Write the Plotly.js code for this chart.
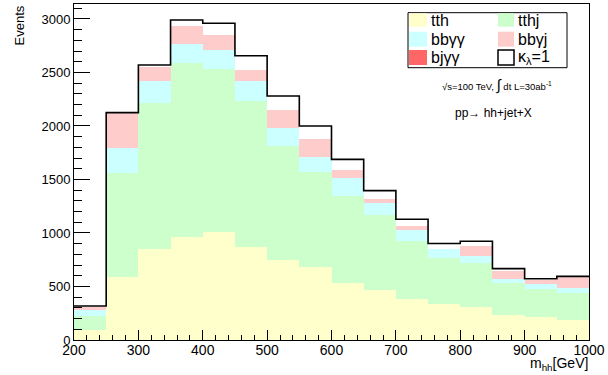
<!DOCTYPE html>
<html><head><meta charset="utf-8">
<script src="https://cdn.plot.ly/plotly-3.0.1.min.js"></script>
<style>html,body{margin:0;padding:0;background:#fff}#chart{width:608px;height:375px}</style>
</head><body><div id="chart"></div>
<script>
// Bin edges of m_hh [GeV]
const binEdges = [200,250,300,350,400,450,500,550,600,650,700,750,800,850,900,950,1000];
// Stacked backgrounds (events per bin)
const tth   = [93, 586, 847, 960, 1009, 869, 748, 682, 535, 467, 383, 340, 312, 234, 218, 187];
const tthj  = [131, 978, 1364, 1632, 1521, 1365, 1062, 890, 814, 701, 542, 429, 408, 295, 256, 252];
const bbaa  = [56, 233, 210, 174, 180, 188, 170, 141, 168, 109, 103, 81, 65, 44, 49, 50];
const bbaj  = [25, 323, 133, 169, 140, 101, 167, 162, 72, 41, 37, 5, 94, 72, 38, 97];
const bjaa  = [0, 0, 0, 0, 0, 0, 0, 0, 0, 0, 0, 0, 0, 0, 0, 0];
// Signal (kappa_lambda = 1) on top of the stack
const signal = [13, 5, 16, 56, 110, 134, 133, 125, 99, 78, 63, 47, 44, 22, 12, 9];

const seriesNames = ['tth', 'tthj', 'bbγγ', 'bbγj', 'bjγγ', 'κ<sub>λ</sub>=1'];
const xTicks = [200,300,400,500,600,700,800,900,1000];
const yTicks = [0,500,1000,1500,2000,2500,3000];

const colors = ['#ffffcc', '#ccffcc', '#ccffff', '#ffcccc', '#ff6666', '#ffffff'];
const FONT = 'Liberation Sans, Arial, Helvetica, sans-serif';

const centers = binEdges.slice(0, -1).map((e, i) => (e + binEdges[i + 1]) / 2);
const widths = binEdges.slice(0, -1).map((e, i) => binEdges[i + 1] - e);
const stackSeries = [tth, tthj, bbaa, bbaj, bjaa];

const traces = stackSeries.map((vals, k) => ({
  type: 'bar', x: centers, y: vals, width: widths, name: seriesNames[k],
  marker: {color: colors[k], line: {width: 0}}, showlegend: false, hoverinfo: 'skip'
}));
const totals = centers.map((_, i) => stackSeries.reduce((s, a) => s + a[i], 0) + signal[i]);
traces.push({
  type: 'scatter', mode: 'lines', x: binEdges, y: totals.concat([totals[totals.length - 1]]),
  line: {shape: 'hv', color: '#000000', width: 1.6}, name: seriesNames[5], showlegend: false, hoverinfo: 'skip'
});

// pixel -> paper helpers (plot area 74..589 x 4..340)
const L = 74, R = 589, T = 4, B = 340;
const px = x => (x - L) / (R - L);
const py = y => (B - y) / (B - T);

const shapes = [];
const annotations = [];
// legend box
shapes.push({type: 'rect', xref: 'paper', yref: 'paper', x0: px(408), x1: px(567), y0: py(67.7), y1: py(12.7),
  line: {color: '#000', width: 1}, fillcolor: '#fff', layer: 'above'});
const legendOrder = [0, 1, 2, 3, 4, 5];
const colX = [[409, 427, 429], [498, 514, 516]];
const rowY = [[13.3, 26.7], [31.7, 46.7], [50, 65]];
legendOrder.forEach((k, idx) => {
  const c = idx % 2, r = Math.floor(idx / 2);
  const [sx0, sx1, tx] = colX[c];
  const [sy0, sy1] = rowY[r];
  shapes.push({type: 'rect', xref: 'paper', yref: 'paper', x0: px(sx0), x1: px(sx1), y0: py(sy1), y1: py(sy0),
    line: {color: k === 5 ? '#000' : colors[k], width: k === 5 ? 1.5 : 0}, fillcolor: colors[k], layer: 'above'});
  annotations.push({xref: 'paper', yref: 'paper', x: px(tx), y: py((sy0 + sy1) / 2), xanchor: 'left', yanchor: 'middle',
    text: seriesNames[k], showarrow: false, font: {family: FONT, size: 16, color: '#000'}});
});
annotations.push({xref: 'paper', yref: 'paper', x: px(497), y: py(85), xanchor: 'center', yanchor: 'middle',
  text: '√s=100 TeV, <span style="font-size:15px">∫</span> dt L=30ab<sup>-1</sup>', showarrow: false,
  font: {family: FONT, size: 9.5, color: '#000'}});
annotations.push({xref: 'paper', yref: 'paper', x: px(493), y: py(113), xanchor: 'center', yanchor: 'middle',
  text: 'pp→ hh+jet+X', showarrow: false, font: {family: FONT, size: 12, color: '#000'}});
annotations.push({xref: 'paper', yref: 'paper', x: px(18.5), y: py(4), xanchor: 'center', yanchor: 'top',
  text: 'Events', textangle: -90, showarrow: false, font: {family: FONT, size: 13, color: '#000'}});
annotations.push({xref: 'paper', yref: 'paper', x: px(590), y: py(375), xanchor: 'right', yanchor: 'bottom',
  text: 'm<sub>hh</sub>[GeV]', showarrow: false, font: {family: FONT, size: 14, color: '#000'}});

const layout = {
  width: 608, height: 375,
  margin: {l: L, r: 608 - R, t: T, b: 375 - B, pad: 0},
  paper_bgcolor: '#fff', plot_bgcolor: '#fff',
  barmode: 'stack', bargap: 0, showlegend: false,
  font: {family: FONT, color: '#000'},
  xaxis: {
    range: [200, 1000], tickmode: 'array', tickvals: xTicks, ticktext: xTicks.map(String),
    ticks: 'inside', ticklen: 10, tickwidth: 1, tickcolor: '#000', ticklabelstandoff: -3,
    minor: {ticks: 'inside', ticklen: 5, dtick: 20, tick0: 200, tickcolor: '#000', tickwidth: 1},
    showline: true, linecolor: '#000', linewidth: 1, mirror: true,
    showgrid: false, zeroline: false, tickfont: {family: FONT, size: 14, color: '#000'}
  },
  yaxis: {
    range: [0, 3140], tickmode: 'array', tickvals: yTicks, ticktext: yTicks.map(String),
    ticks: 'inside', ticklen: 16, tickwidth: 1, tickcolor: '#000',
    minor: {ticks: 'inside', ticklen: 8, dtick: 100, tick0: 0, tickcolor: '#000', tickwidth: 1},
    showline: true, linecolor: '#000', linewidth: 1, mirror: true,
    showgrid: false, zeroline: false, tickfont: {family: FONT, size: 13, color: '#000'}
  },
  shapes: shapes, annotations: annotations
};

Plotly.newPlot('chart', traces, layout, {staticPlot: true, displayModeBar: false});
</script>
</body></html>
